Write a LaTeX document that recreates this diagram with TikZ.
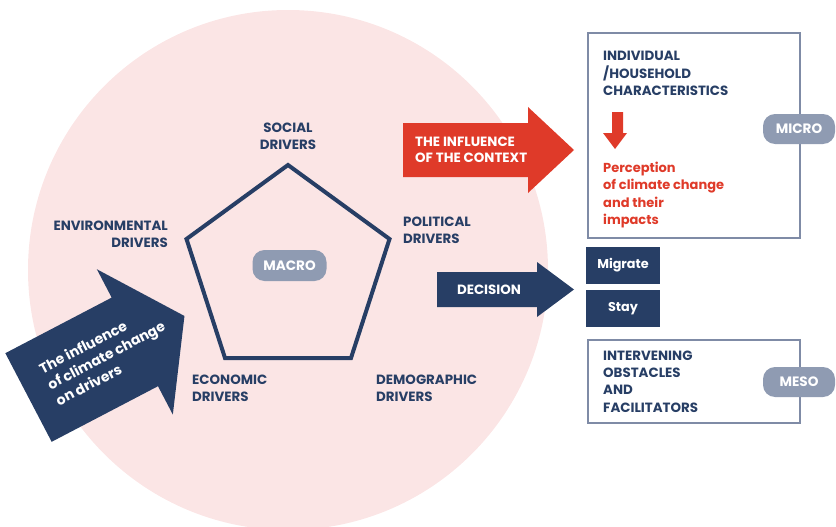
\documentclass[tikz,border=0pt]{standalone}
\usepackage{fontspec}
\setmainfont{Poppins}
\definecolor{navy}{HTML}{273E65}
\definecolor{cred}{HTML}{DF3A29}
\definecolor{pinkbg}{HTML}{FBE5E5}
\definecolor{pill}{HTML}{8F9BB2}
\definecolor{boxline}{HTML}{7F8BA6}
\tikzset{
  lbl/.style={inner sep=0pt, text=navy, font=\fontsize{13.4}{17.2}\selectfont\bfseries},
  wlbl/.style={inner sep=0pt, text=white, font=\fontsize{13.4}{16.5}\selectfont\bfseries},
  pillbox/.style={fill=pill, rounded corners=12pt, minimum height=30pt, text=white, font=\fontsize{13.6}{15}\selectfont\bfseries, inner sep=0pt},
  choice/.style={fill=navy, minimum width=74pt, minimum height=37pt, text=white, font=\fontsize{12.8}{15}\selectfont\bfseries, inner sep=0pt},
  levelbox/.style={draw=boxline, line width=2pt}
}
\begin{document}
\begin{tikzpicture}[x=1pt,y=-1pt]
\useasboundingbox (0,0) rectangle (836,527);
\clip (0,0) rectangle (836,527);
% background circle
\fill[pinkbg] (288,270) circle[radius=260pt];
% pentagon
\coordinate (p1) at (288,165);
\coordinate (p2) at (389.5,239);
\coordinate (p3) at (351,358);
\coordinate (p4) at (225,358);
\coordinate (p5) at (186.5,239);
\draw[navy, line width=4pt, line join=miter] (p1) -- (p2) -- (p3) -- (p4) -- (p5) -- cycle;
\node[pillbox, minimum width=74pt, minimum height=31pt] (macro) at (289.5,265.5) {MACRO};
% driver labels
\node[lbl, align=center] (social) at (288,136) {SOCIAL\\DRIVERS};
\node[lbl, align=right, anchor=east] (env) at (168,234) {ENVIRONMENTAL\\DRIVERS};
\node[lbl, align=left, anchor=west] (pol) at (403,230.5) {POLITICAL\\DRIVERS};
\node[lbl, align=left, anchor=west] (eco) at (192,388) {ECONOMIC\\DRIVERS};
\node[lbl, align=left, anchor=west] (dem) at (376,388) {DEMOGRAPHIC\\DRIVERS};
% climate arrow
\begin{scope}[shift={(28.5,397.5)}, rotate=27.6]
\fill[navy] (0,-50) -- (120,-50) -- (120,-82) -- (176,0) -- (120,82) -- (120,50) -- (0,50) -- cycle;
\end{scope}
\node[inner sep=0pt, text=white, align=left, rotate=27.6, font=\fontsize{14}{18}\selectfont\bfseries] (climtext) at (106,355) {The influence\\of climate change\\on drivers};
% context arrow
\fill[cred] (403,123) -- (528,123) -- (528,107) -- (574,150) -- (528,193) -- (528,177) -- (403,177) -- cycle;
\node[wlbl, align=left, anchor=west] (ctxtext) at (415,150) {THE INFLUENCE\\OF THE CONTEXT};
% decision arrow
\fill[navy] (437,272) -- (537,272) -- (537,262) -- (574,289.5) -- (537,317) -- (537,307) -- (437,307) -- cycle;
\node[wlbl] (dectext) at (489,290) {DECISION};
% choices
\node[choice] (migrate) at (623,265.5) {Migrate};
\node[choice] (stay) at (623,308.5) {Stay};
% micro box
\draw[levelbox] (588,33) rectangle (800,238);
\node[lbl, align=left, anchor=west] (indiv) at (603,73.5) {INDIVIDUAL\\/HOUSEHOLD\\CHARACTERISTICS};
\fill[cred] (612,112) -- (623,112) -- (623,133) -- (627,133) -- (615,149) -- (603,133) -- (612,133) -- cycle;
\node[lbl, text=cred, align=left, anchor=west, font=\fontsize{13}{17.2}\selectfont\bfseries] (percep) at (603,195) {Perception\\of climate change\\and their\\impacts};
\node[pillbox, minimum width=72pt] (micro) at (799,129) {MICRO};
% meso box
\draw[levelbox] (588,340) rectangle (800,423);
\node[lbl, align=left, anchor=west] (interv) at (603,381.5) {INTERVENING\\OBSTACLES\\AND\\FACILITATORS};
\node[pillbox, minimum width=72pt] (meso) at (799,382) {MESO};
\end{tikzpicture}
\end{document}
